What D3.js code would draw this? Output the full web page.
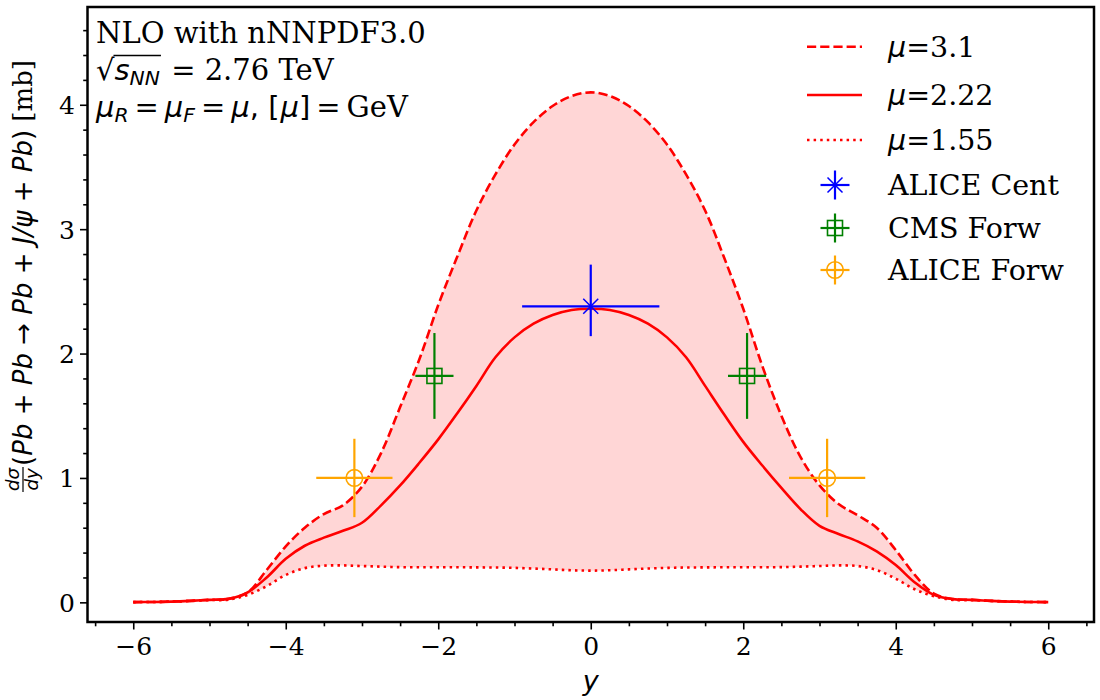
<!DOCTYPE html>
<html><head><meta charset="utf-8">
<script src="https://cdn.jsdelivr.net/npm/d3@7"></script>
<style>body{margin:0;background:#fff}</style>
</head><body>
<svg id="c" width="1100" height="700" xmlns="http://www.w3.org/2000/svg"></svg>
<script>
// ---------------- data ----------------
const rapidity = [-6,-5.75,-5.5,-5.25,-5,-4.75,-4.5,-4.25,-4,-3.75,-3.5,-3.25,-3,-2.75,-2.5,-2.25,-2,-1.75,-1.5,-1.25,-1,-0.75,-0.5,-0.25,0,
  0.25,0.5,0.75,1,1.25,1.5,1.75,2,2.25,2.5,2.75,3,3.25,3.5,3.75,4,4.25,4.5,4.75,5,5.25,5.5,5.75,6];
const mu31 = [0.002,0.003,0.006,0.012,0.02,0.028,0.08,0.26,0.45,0.60,0.71,0.78,0.93,1.20,1.57,1.95,2.39,2.78,3.15,3.44,3.68,3.86,3.99,4.07,4.10,
  4.07,3.99,3.86,3.68,3.44,3.15,2.77,2.36,1.90,1.50,1.17,0.94,0.79,0.70,0.60,0.42,0.22,0.07,0.026,0.02,0.012,0.006,0.003,0.002];
const mu222 = [0.002,0.003,0.006,0.012,0.02,0.028,0.08,0.20,0.35,0.455,0.52,0.575,0.64,0.78,0.94,1.12,1.31,1.52,1.74,1.97,2.13,2.24,2.31,2.35,2.36,
  2.35,2.31,2.24,2.13,1.97,1.74,1.51,1.29,1.10,0.92,0.75,0.615,0.55,0.49,0.41,0.30,0.16,0.06,0.026,0.02,0.012,0.006,0.003,0.002];
const mu155 = [0.002,0.003,0.006,0.011,0.018,0.022,0.06,0.13,0.22,0.275,0.295,0.297,0.292,0.287,0.283,0.282,0.282,0.282,0.281,0.28,0.277,0.272,0.265,0.258,0.255,
  0.258,0.265,0.272,0.277,0.28,0.281,0.282,0.282,0.282,0.283,0.287,0.292,0.297,0.292,0.26,0.19,0.105,0.05,0.02,0.018,0.011,0.006,0.003,0.002];

const seriesLabels = ["3.1", "2.22", "1.55"];
const pointLabels = ["ALICE Cent", "CMS Forw", "ALICE Forw"];

const aliceCentX = [0];
const aliceCentY = [2.38];
const aliceCentXErr = [0.9];
const aliceCentYErrUp = [0.335];
const aliceCentYErrDown = [0.24];

const cmsForwX = [-2.05, 2.05];
const cmsForwY = [1.82, 1.82];
const cmsForwXErr = [0.25, 0.25];
const cmsForwYErr = [0.345, 0.345];

const aliceForwX = [-3.1, 3.1];
const aliceForwY = [1.0, 1.0];
const aliceForwXErr = [0.5, 0.5];
const aliceForwYErr = [0.315, 0.315];

const xTicks = [-6,-4,-2,0,2,4,6];
const xMinorTicks = [-6.5,-5.5,-5,-4.5,-3.5,-3,-2.5,-1.5,-1,-0.5,0.5,1,1.5,2.5,3,3.5,4.5,5,5.5,6.5];
const yTicks = [0,1,2,3,4];
const yMinorTicks = [0.2,0.4,0.6,0.8,1.2,1.4,1.6,1.8,2.2,2.4,2.6,2.8,3.2,3.4,3.6,3.8,4.2,4.4,4.6];

// ---------------- setup ----------------
const SERIF = "'DejaVu Serif', serif";
const SANS = "'DejaVu Sans', sans-serif";
const svg = d3.select("#c");
const L = 87.5, R = 1094, T = 7, B = 622;
const x = d3.scaleLinear().domain([-6.6, 6.6]).range([L, R]);
const y = d3.scaleLinear().domain([-0.158, 4.786]).range([B, T]);
const CURVE = d3.curveCatmullRom.alpha(0.5);

const curves = rapidity.map((r, i) => ({r, a: mu31[i], b: mu222[i], c: mu155[i]}));

// fill between
svg.append("path").datum(curves)
  .attr("d", d3.area().x(d => x(d.r)).y0(d => y(d.a)).y1(d => y(d.c)).curve(CURVE))
  .attr("fill", "#ff0000").attr("fill-opacity", 0.16).attr("stroke", "none");

const lineStyles = [
  {key: "a", dash: "9.2,4"},
  {key: "b", dash: null},
  {key: "c", dash: "2.5,4.1"}
];
lineStyles.forEach(s => {
  svg.append("path").datum(curves)
    .attr("d", d3.line().x(d => x(d.r)).y(d => y(d[s.key])).curve(CURVE))
    .attr("fill", "none").attr("stroke", "#ff0000").attr("stroke-width", 2.6)
    .attr("stroke-dasharray", s.dash);
});

// error bars
function errbar(g, cx, cy, xl, xr, yt, yb, color) {
  g.append("line").attr("x1", xl).attr("x2", xr).attr("y1", cy).attr("y2", cy)
    .attr("stroke", color).attr("stroke-width", 2.2);
  g.append("line").attr("x1", cx).attr("x2", cx).attr("y1", yt).attr("y2", yb)
    .attr("stroke", color).attr("stroke-width", 2.2);
}
function markerX(g, cx, cy, color, s) {
  g.append("path").attr("d", `M${cx-s},${cy-s}L${cx+s},${cy+s}M${cx-s},${cy+s}L${cx+s},${cy-s}`)
    .attr("stroke", color).attr("stroke-width", 1.5).attr("fill", "none");
}
function markerSq(g, cx, cy, color, s) {
  g.append("rect").attr("x", cx-s).attr("y", cy-s).attr("width", 2*s).attr("height", 2*s)
    .attr("stroke", color).attr("stroke-width", 1.6).attr("fill", "none");
}
function markerO(g, cx, cy, color, s) {
  g.append("circle").attr("cx", cx).attr("cy", cy).attr("r", s)
    .attr("stroke", color).attr("stroke-width", 1.6).attr("fill", "none");
}
const pts = svg.append("g");
aliceCentX.forEach((v, i) => {
  errbar(pts, x(v), y(aliceCentY[i]), x(v - aliceCentXErr[i]), x(v + aliceCentXErr[i]),
    y(aliceCentY[i] + aliceCentYErrUp[i]), y(aliceCentY[i] - aliceCentYErrDown[i]), "#0000ff");
  markerX(pts, x(v), y(aliceCentY[i]), "#0000ff", 7.5);
});
cmsForwX.forEach((v, i) => {
  errbar(pts, x(v), y(cmsForwY[i]), x(v - cmsForwXErr[i]), x(v + cmsForwXErr[i]),
    y(cmsForwY[i] + cmsForwYErr[i]), y(cmsForwY[i] - cmsForwYErr[i]), "#008000");
  markerSq(pts, x(v), y(cmsForwY[i]), "#008000", 7.5);
});
aliceForwX.forEach((v, i) => {
  errbar(pts, x(v), y(aliceForwY[i]), x(v - aliceForwXErr[i]), x(v + aliceForwXErr[i]),
    y(aliceForwY[i] + aliceForwYErr[i]), y(aliceForwY[i] - aliceForwYErr[i]), "#ffa500");
  markerO(pts, x(v), y(aliceForwY[i]), "#ffa500", 8.3);
});

// axes
const xAxis = svg.append("g").attr("transform", `translate(0,${B})`)
  .call(d3.axisBottom(x).tickValues(xTicks).tickSize(7.5).tickPadding(8).tickFormat(d3.format("d")));
const xMinor = svg.append("g").attr("transform", `translate(0,${B})`)
  .call(d3.axisBottom(x).tickValues(xMinorTicks).tickSize(4.3).tickFormat(""));
const yAxis = svg.append("g").attr("transform", `translate(${L},0)`)
  .call(d3.axisLeft(y).tickValues(yTicks).tickSize(7.5).tickPadding(5).tickFormat(d3.format("d")));
const yMinor = svg.append("g").attr("transform", `translate(${L},0)`)
  .call(d3.axisLeft(y).tickValues(yMinorTicks).tickSize(4.3).tickFormat(""));
[xAxis, xMinor, yAxis, yMinor].forEach(a => {
  a.select(".domain").remove();
  a.selectAll(".tick line").attr("stroke", "#000").attr("stroke-width", 1.6);
  a.selectAll("text").attr("font-family", SERIF).attr("font-size", 25).attr("fill", "#000");
});
xAxis.selectAll("text").attr("dy", "0.71em");
yAxis.selectAll("text").attr("dy", "0.36em");

// frame
svg.append("rect").attr("x", L).attr("y", T).attr("width", R - L).attr("height", B - T)
  .attr("fill", "none").attr("stroke", "#000").attr("stroke-width", 2.5);

// helper for multi-font runs
function runs(g, x0, y0, items) {
  let cx = x0;
  const out = [];
  items.forEach(it => {
    cx += (it.pre || 0);
    const t = g.append("text").attr("x", cx).attr("y", y0 + (it.dy || 0))
      .attr("font-family", it.f).attr("font-size", it.s)
      .attr("font-style", it.i ? "italic" : "normal").attr("fill", "#000")
      .style("white-space", "pre").text(it.t);
    const w = t.node().getComputedTextLength();
    out.push({x: cx, w, node: t.node()});
    cx += w + (it.gap || 0);
  });
  return {end: cx, parts: out};
}

// annotation text
const TS = 29;
const ann = svg.append("g");
ann.append("text").attr("x", 96).attr("y", 43).attr("font-family", SERIF).attr("font-size", TS)
  .attr("fill", "#000").text("NLO with nNNPDF3.0");
const l2 = runs(ann, 96, 80, [
  {t: "\u221A", f: SANS, s: TS},
  {t: "s", f: SANS, s: TS, i: true},
  {t: "NN", f: SANS, s: TS*0.7, i: true, dy: 5},
  {t: " = 2.76 TeV", f: SERIF, s: TS, pre: 2}
]);
{
  const bb = l2.parts[0].node.getBBox();
  ann.append("line").attr("x1", l2.parts[0].x + l2.parts[0].w - 1).attr("x2", l2.parts[2].x + l2.parts[2].w + 1)
    .attr("y1", bb.y + 2.5).attr("y2", bb.y + 2.5).attr("stroke", "#000").attr("stroke-width", 1.4);
}
runs(ann, 96, 117, [
  {t: "\u03BC", f: SANS, s: TS, i: true},
  {t: "R", f: SANS, s: TS*0.7, i: true, dy: 5},
  {t: "=", f: SANS, s: TS, pre: 6, gap: 6},
  {t: "\u03BC", f: SANS, s: TS, i: true},
  {t: "F", f: SANS, s: TS*0.7, i: true, dy: 5},
  {t: "=", f: SANS, s: TS, pre: 6, gap: 6},
  {t: "\u03BC", f: SANS, s: TS, i: true},
  {t: ", [", f: SANS, s: TS, gap: 1},
  {t: "\u03BC", f: SANS, s: TS, i: true},
  {t: "]", f: SANS, s: TS},
  {t: "=", f: SANS, s: TS, pre: 6, gap: 6},
  {t: "GeV", f: SERIF, s: TS}
]);

// legend
const LS = 28.5;
const leg = svg.append("g");
const rowsY = [46.7, 95, 140, 185, 228, 270];
lineStyles.forEach((s, i) => {
  leg.append("line").attr("x1", 807).attr("x2", 862).attr("y1", rowsY[i]).attr("y2", rowsY[i])
    .attr("stroke", "#ff0000").attr("stroke-width", 2.6).attr("stroke-dasharray", s.dash);
  runs(leg, 888, rowsY[i] + LS*0.36, [
    {t: "\u03BC", f: SANS, s: LS, i: true},
    {t: "=" + seriesLabels[i], f: SERIF, s: LS}
  ]);
});
const legColors = ["#0000ff", "#008000", "#ffa500"];
const legMarkers = [markerX, markerSq, markerO];
const legSizes = [7.5, 7.5, 8.3];
pointLabels.forEach((lab, i) => {
  const cy = rowsY[3 + i], cx = 835;
  errbar(leg, cx, cy, cx - 14.5, cx + 14.5, cy - 14.5, cy + 14.5, legColors[i]);
  legMarkers[i](leg, cx, cy, legColors[i], legSizes[i]);
  leg.append("text").attr("x", 888).attr("y", cy + LS*0.36).attr("font-family", SERIF)
    .attr("font-size", LS).attr("fill", "#000").text(lab);
});

// x label
svg.append("text").attr("x", x(0)).attr("y", 690).attr("text-anchor", "middle")
  .attr("font-family", SANS).attr("font-style", "italic").attr("font-size", 27).attr("fill", "#000").text("y");

// y label (rotated)
const YS = 26;
const yl = svg.append("g");
const inner = yl.append("g");
const fr = 0.7 * YS;
const numT = inner.append("text").attr("x", 0).attr("y", -4).attr("font-family", SANS).attr("font-style", "italic")
  .attr("font-size", fr).attr("text-anchor", "middle").text("d\u03C3");
const denT = inner.append("text").attr("x", 0).attr("y", fr * 0.85).attr("font-family", SANS).attr("font-style", "italic")
  .attr("font-size", fr).attr("text-anchor", "middle").text("dy");
const fw = Math.max(numT.node().getComputedTextLength(), denT.node().getComputedTextLength());
numT.attr("x", fw / 2 + 1); denT.attr("x", fw / 2 + 1);
inner.append("line").attr("x1", 0).attr("x2", fw + 2).attr("y1", 0).attr("y2", 0).attr("stroke", "#000").attr("stroke-width", 1.2);
const main = runs(inner, fw + 3, YS * 0.36, [
  {t: "(", f: SANS, s: YS},
  {t: "Pb", f: SANS, s: YS, i: true},
  {t: " + ", f: SANS, s: YS},
  {t: "Pb", f: SANS, s: YS, i: true},
  {t: " \u2192 ", f: SANS, s: YS},
  {t: "Pb", f: SANS, s: YS, i: true},
  {t: " + ", f: SANS, s: YS},
  {t: "J/\u03C8", f: SANS, s: YS, i: true},
  {t: " + ", f: SANS, s: YS},
  {t: "Pb", f: SANS, s: YS, i: true},
  {t: ")", f: SANS, s: YS},
  {t: " [mb]", f: SERIF, s: YS}
]);
const totalW = main.end;
inner.attr("transform", `translate(${-totalW / 2},0)`);
yl.attr("transform", `translate(23,276) rotate(-90)`);
</script>
</body></html>
